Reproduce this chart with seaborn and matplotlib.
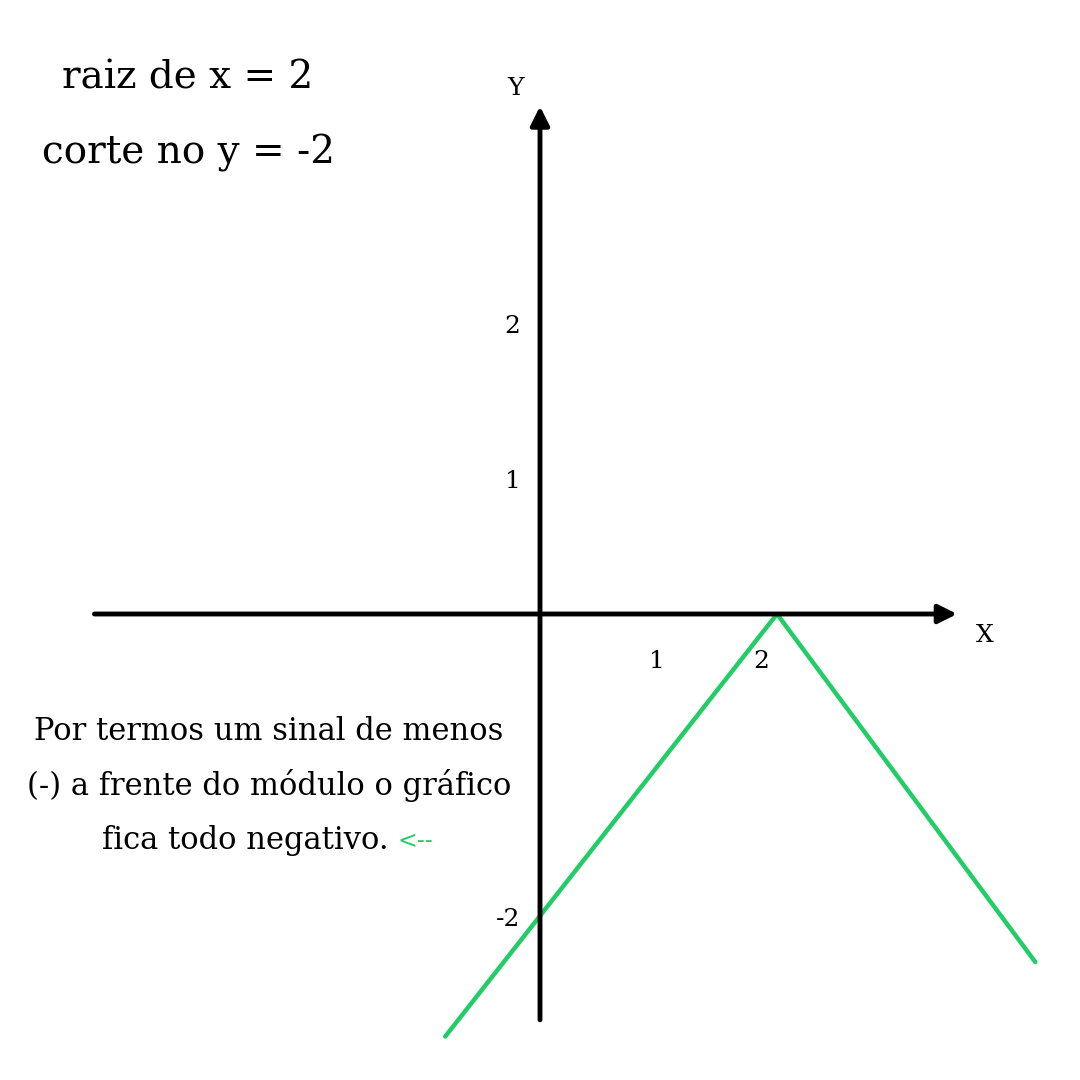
import seaborn as sns
import matplotlib.pyplot as plt

# y = -|x - 2|
x_vals = [-0.8, 2.0, 4.18]
y_vals = [-2.78, 0.0, -2.29]

# limites dos eixos desenhados (setas)
x_axis_lim = (-3.76, 3.52)
y_axis_lim = (-2.67, 3.34)

# rótulos dos eixos (texto, posição em unidades do gráfico)
y_labels = ["2", "1", "-2"]
y_label_pos = [1.89, 0.875, -2.01]
x_labels = ["1", "2"]
x_label_pos = [0.99, 1.87]

titulo = ["raiz de x = 2", "corte no y = -2"]
nota = ["Por termos um sinal de menos", "(-) a frente do módulo o gráfico", "fica todo negativo."]

verde = "#22cc66"
serif = ["DejaVu Serif"]

sns.set_style("white")
plt.rcParams["font.family"] = serif
plt.rcParams["text.color"] = "black"

fig = plt.figure(figsize=(10.8, 10.8), dpi=100)
ax = fig.add_axes([0, 0, 1, 1])
ax.set_xlim(-540 / 118.5, 540 / 118.5)
ax.set_ylim(-(1080 - 614) / 152, 614 / 152)
ax.axis("off")

# eixos com seta
seta = dict(arrowstyle="-|>", lw=3.5, color="black", mutation_scale=28, shrinkA=0, shrinkB=0)
ax.annotate("", xy=(x_axis_lim[1], 0), xytext=(x_axis_lim[0], 0), arrowprops=seta)
ax.annotate("", xy=(0, y_axis_lim[1]), xytext=(0, y_axis_lim[0]), arrowprops=seta)

sns.lineplot(x=x_vals, y=y_vals, sort=False, color=verde, lw=3.2, ax=ax)

for lab, pos in zip(y_labels, y_label_pos):
    dx = -0.27 if lab.startswith("-") else -0.23
    ax.text(dx, pos, lab, ha="center", va="center", fontsize=18)
for lab, pos in zip(x_labels, x_label_pos):
    ax.text(pos, -0.31, lab, ha="center", va="center", fontsize=18)
ax.text(-0.21, 3.46, "Y", ha="center", va="center", fontsize=18)
ax.text(3.75, -0.14, "X", ha="center", va="center", fontsize=18)

def fx(px):
    return px / 1080

def fy(py):
    return 1 - py / 1080

fig.text(fx(188), fy(78), titulo[0], ha="center", va="center", fontsize=28)
fig.text(fx(188), fy(153), titulo[1], ha="center", va="center", fontsize=28)

fig.text(fx(269), fy(731), nota[0], ha="center", va="center", fontsize=22)
fig.text(fx(269), fy(786), nota[1], ha="center", va="center", fontsize=22)
fig.text(fx(389), fy(840), nota[2], ha="right", va="center", fontsize=22)
fig.text(fx(397), fy(842), "<--", ha="left", va="center", fontsize=17, color=verde)

fig.savefig("out.png", dpi=100, facecolor="white")
